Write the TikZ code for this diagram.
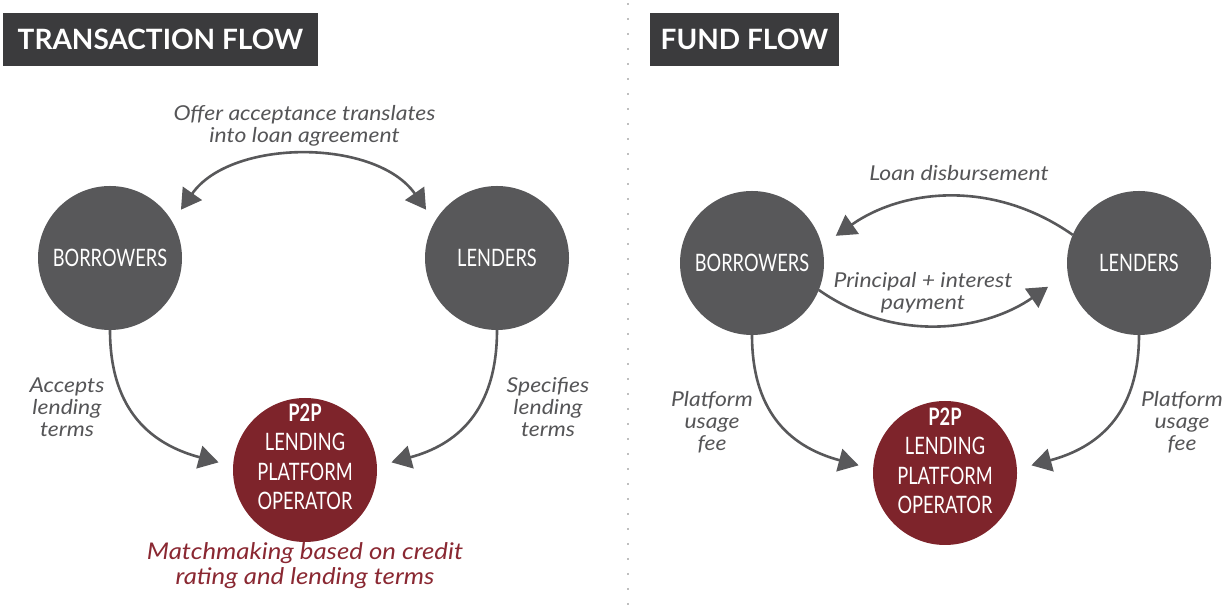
\documentclass[tikz,border=0pt]{standalone}
\usepackage{fontspec}
\setmainfont{Lato}
\newfontfamily\condfont[FakeStretch=0.76]{Lato}
\newfontfamily\widefont[FakeStretch=1.12]{Lato}
\usepackage{tikz}
\usetikzlibrary{arrows.meta}
\definecolor{circgray}{HTML}{58585A}
\definecolor{opred}{HTML}{7E242B}
\definecolor{titlegray}{HTML}{3B3B3D}
\definecolor{notered}{HTML}{8A2832}
\definecolor{notegray}{HTML}{555557}
\tikzset{party/.style={circle,fill=circgray,minimum size=144pt,inner sep=0pt,outer sep=0pt,text=white,align=center,font=\condfont\fontsize{24}{29}\selectfont}}
\tikzset{operator/.style={party,fill=opred}}
\tikzset{optext/.style={text=white,align=center,font=\condfont\fontsize{24}{29.5}\selectfont}}
\tikzset{heading/.style={fill=titlegray,text=white,minimum height=53pt,inner sep=0pt,font=\bfseries\fontsize{28}{32}\selectfont}}
\tikzset{note/.style={text=notegray,align=center,font=\widefont\itshape\fontsize{20.5}{22}\selectfont}}
\tikzset{rednote/.style={text=notered,align=center,font=\widefont\itshape\fontsize{23}{25}\selectfont}}
\tikzset{flow/.style={draw=circgray,line width=2.6pt,>={Triangle[length=20pt,width=23pt]}}}
\tikzset{divider/.style={draw=black!25,line width=2pt,dash pattern=on 2pt off 13pt}}

\begin{document}
\begin{tikzpicture}[x=1pt,y=1pt]
\useasboundingbox (0,0) rectangle (1231,607);

\draw[divider] (628,604) -- (628,0);

%transaction flow
\node (h) at (160.5,567.5)[heading,minimum width=315pt]{TRANSACTION FLOW};
\node (b) at (110,349)[party]{BORROWERS};
\node (l) at (497,349)[party]{LENDERS};
\node (p) at (305,137)[operator]{};
\node (pt) at (305,150)[optext]{\textbf{P2P}\\LENDING\\PLATFORM\\OPERATOR};

\node (offer) at (304.5,481)[note]{Offer acceptance translates\\into loan agreement};
\node (acc) at (67,200)[note]{Accepts\\lending\\terms};
\node (spec) at (548,200)[note]{Specifies\\lending\\terms};
\node (match) at (305,41.5)[rednote]{Matchmaking based on credit\\rating and lending terms};

\draw[flow,<->,shorten <=15pt,shorten >=15pt] (b.30) to[out=55,in=125] (l.150);
\draw[flow,->,shorten >=15pt] (b.south) to[out=-90,in=165,looseness=1.15] (p.177);
\draw[flow,->,shorten >=15pt] (l.south) to[out=-90,in=15,looseness=1.15] (p.3);

%now the fund flow
\node (h2) at (744.5,567.5)[heading,minimum width=189pt]{FUND FLOW};
\node (b2) at (752,344)[party]{BORROWERS};
\node (l2) at (1139,344)[party]{LENDERS};
\node (p2) at (945,134)[operator]{};
\node (pt2) at (945,146)[optext]{\textbf{P2P}\\LENDING\\PLATFORM\\OPERATOR};

\node (loan) at (959,434)[note]{Loan disbursement};
\node (pay) at (923,314)[note]{Principal + interest\\payment};
\node (fee) at (712,185)[note]{Platform\\usage\\fee};
\node (fee2) at (1182,185)[note]{Platform\\usage\\fee};

\draw[flow,->,shorten >=17pt] (l2.157) to[out=145,in=35] (b2.14);
\draw[flow,->,shorten >=24pt] (b2.-22) to[out=-35,in=-145] (l2.188);
\draw[flow,->,shorten >=15pt] (b2.south) to[out=-90,in=165,looseness=1.15] (p2.177);
\draw[flow,->,shorten >=15pt] (l2.south) to[out=-90,in=15,looseness=1.15] (p2.3);

\end{tikzpicture}
\end{document}
